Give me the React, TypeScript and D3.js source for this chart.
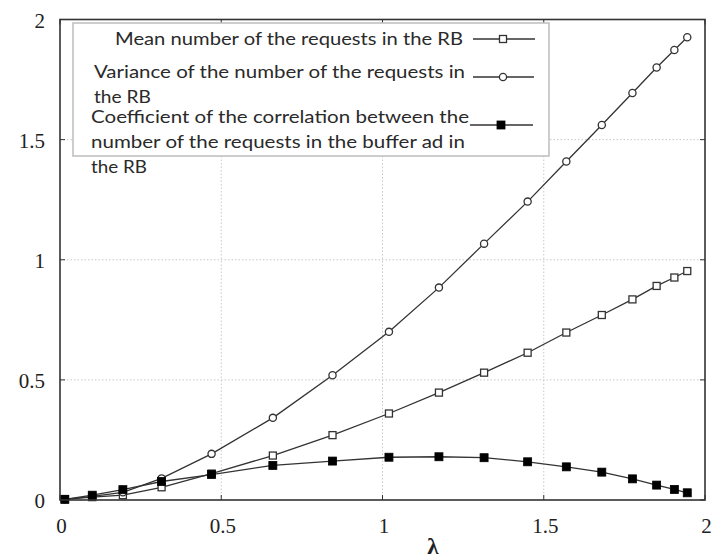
import React from "react";
import * as d3 from "d3";

const lambdaValues = [0.015, 0.1, 0.195, 0.315, 0.47, 0.66, 0.845, 1.02, 1.175, 1.315, 1.45, 1.57, 1.68, 1.775, 1.85, 1.905, 1.945];
const meanValues = [0.003, 0.012, 0.02, 0.053, 0.11, 0.185, 0.27, 0.36, 0.447, 0.53, 0.613, 0.697, 0.77, 0.835, 0.891, 0.926, 0.953];
const varianceValues = [0.003, 0.015, 0.032, 0.09, 0.192, 0.342, 0.519, 0.7, 0.884, 1.067, 1.242, 1.409, 1.561, 1.694, 1.8, 1.873, 1.926];
const corrValues = [0.003, 0.02, 0.043, 0.077, 0.106, 0.144, 0.162, 0.178, 0.18, 0.176, 0.159, 0.138, 0.116, 0.088, 0.062, 0.044, 0.03];

const xTicks = [0, 0.5, 1, 1.5, 2];
const yTicks = [0, 0.5, 1, 1.5, 2];
const xTickLabels = ["0", "0.5", "1", "1.5", "2"];
const yTickLabels = ["0", "0.5", "1", "1.5", "2"];
const xLabel = "λ";

const legendRows = [
  { lines: ["Mean number of the requests in the RB"], widths: [348], marker: "square" },
  { lines: ["Variance of the number of the requests in", "the RB"], widths: [371, 57], marker: "circle" },
  { lines: ["Coefficient of the correlation between the", "number of the requests in the buffer ad in", "the RB"], widths: [378, 374, 56], marker: "filled" },
];

const W = 717;
const H = 558;
const L = 60, R = 705, T = 19.5, B = 500;
const SERIF = "Liberation Serif";

function Marker({ type, x, y }: { type: string; x: number; y: number }) {
  if (type === "circle") return <circle cx={x} cy={y} r={3.6} fill="#fff" stroke="#333" strokeWidth={1.3} />;
  if (type === "square") return <rect x={x - 3.5} y={y - 3.5} width={7} height={7} fill="#fff" stroke="#333" strokeWidth={1.3} />;
  return <rect x={x - 4} y={y - 4} width={8} height={8} fill="#000" stroke="#000" strokeWidth={0.8} />;
}

export default function App() {
  const x = d3.scaleLinear().domain([0, 2]).range([L, R]);
  const y = d3.scaleLinear().domain([0, 2]).range([B, T]);
  const line = d3.line<[number, number]>().x((d) => x(d[0])).y((d) => y(d[1]));
  const series = [
    { vals: meanValues, marker: "square" },
    { vals: varianceValues, marker: "circle" },
    { vals: corrValues, marker: "filled" },
  ];
  const legendMarkerX = [503, 503, 501];
  const legendLineX = [[473, 535], [473, 534], [470, 533]];
  const legendLineY = [39, 77, 125];
  const legendTextStart = [115, 94, 91];
  const legendBaselines = [[44.5], [78, 103], [123, 148, 173]];

  return (
    <svg width={W} height={H} style={{ position: "absolute", left: 0, top: 0, background: "#fff" }}>
      <rect x={0} y={0} width={W} height={H} fill="#fff" />
      {xTicks.slice(1, -1).map((t) => (
        <line key={"gx" + t} x1={x(t)} x2={x(t)} y1={T} y2={B} stroke="#c8c8c8" strokeWidth={1} strokeDasharray="1.5,2" />
      ))}
      {yTicks.slice(1, -1).map((t) => (
        <line key={"gy" + t} x1={L} x2={R} y1={y(t)} y2={y(t)} stroke="#c8c8c8" strokeWidth={1} strokeDasharray="1.5,2" />
      ))}
      {xTicks.map((t) => (
        <g key={"tx" + t}>
          <line x1={x(t)} x2={x(t)} y1={B} y2={B - 5} stroke="#333" strokeWidth={1} />
          <line x1={x(t)} x2={x(t)} y1={T} y2={T + 5} stroke="#333" strokeWidth={1} />
        </g>
      ))}
      {yTicks.map((t) => (
        <g key={"ty" + t}>
          <line x1={L} x2={L + 5} y1={y(t)} y2={y(t)} stroke="#333" strokeWidth={1} />
          <line x1={R} x2={R - 5} y1={y(t)} y2={y(t)} stroke="#333" strokeWidth={1} />
        </g>
      ))}
      {series.map((s, i) => {
        const pts = lambdaValues.map((l, k) => [l, s.vals[k]] as [number, number]);
        return (
          <g key={"s" + i}>
            <path d={line(pts) || ""} fill="none" stroke="#333" strokeWidth={1.3} />
            {pts.map((p, k) => (
              <Marker key={k} type={s.marker} x={x(p[0])} y={y(p[1])} />
            ))}
          </g>
        );
      })}
      <rect x={73} y={23} width={476} height={133} fill="#fff" stroke="#bdbdbd" strokeWidth={1.5} />
      {legendRows.map((row, i) => (
        <g key={"lg" + i}>
          {row.lines.map((ln, j) => (
            <text
              key={j}
              x={legendTextStart[i]}
              y={legendBaselines[i][j]}
              fontFamily="Lato, 'Open Sans', sans-serif"
              fontSize={18}
              fill="#2a2a2a"
              textLength={row.widths[j]}
              lengthAdjust="spacingAndGlyphs"
            >
              {ln}
            </text>
          ))}
          <line x1={legendLineX[i][0]} x2={legendLineX[i][1]} y1={legendLineY[i]} y2={legendLineY[i]} stroke="#333" strokeWidth={1.3} />
          <Marker type={row.marker} x={legendMarkerX[i]} y={legendLineY[i]} />
        </g>
      ))}
      <rect x={L} y={T} width={R - L} height={B - T} fill="none" stroke="#333" strokeWidth={1.6} />
      {xTicks.map((t, i) => (
        <text key={"xl" + t} x={x(t) + 1.5} y={533} textAnchor="middle" fontFamily={SERIF} fontSize={21} fill="#222">
          {xTickLabels[i]}
        </text>
      ))}
      {yTicks.map((t, i) => (
        <text key={"yl" + t} x={45} y={y(t) + 8} textAnchor="end" fontFamily={SERIF} fontSize={21} fill="#222">
          {yTickLabels[i]}
        </text>
      ))}
      <text x={433} y={554} textAnchor="middle" fontFamily={SERIF} fontSize={23} fontWeight="bold" fill="#222">
        {xLabel}
      </text>
    </svg>
  );
}
